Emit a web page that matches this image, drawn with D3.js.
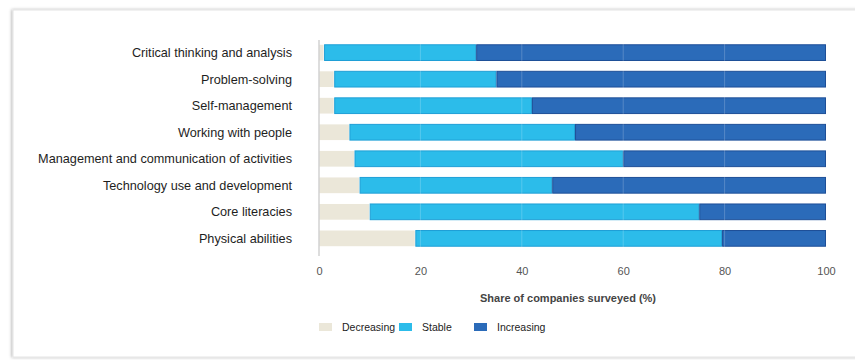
<!DOCTYPE html>
<html>
<head>
<meta charset="utf-8">
<script src="https://cdn.jsdelivr.net/npm/d3@7"></script>
<style>
  body { margin: 0; background: #fff; }
  text { font-family: "Liberation Sans", Arial, sans-serif; }
</style>
</head>
<body>
<div class="chart"></div>
<script>
const categories = [
  'Critical thinking and analysis',
  'Problem-solving',
  'Self-management',
  'Working with people',
  'Management and communication of activities',
  'Technology use and development',
  'Core literacies',
  'Physical abilities'
];
const decreasing = [1, 3, 3, 6, 7, 8, 10, 19];
const stable = [30, 32, 39, 44.5, 53, 38, 65, 60.5];
const increasing = [69, 65, 58, 49.5, 40, 54, 25, 20.5];
const seriesNames = ['Decreasing', 'Stable', 'Increasing'];
const colors = ['#ebe7d9', '#2cbcea', '#2b6bb9'];
const strokes = ['none', '#1f9fd6', '#1e4f98'];
const xTicks = [0, 20, 40, 60, 80, 100];

const W = 855, H = 360;
const svg = d3.select('.chart').append('svg')
  .attr('width', W)
  .attr('height', H);

// card with soft shadow
const defs = svg.append('defs');
const f = defs.append('filter').attr('id', 'sh').attr('x', -0.05).attr('y', -0.05).attr('width', 1.1).attr('height', 1.1);
f.append('feDropShadow').attr('dx', -1).attr('dy', 0).attr('stdDeviation', 1.5)
  .attr('flood-color', '#000').attr('flood-opacity', 0.3);
svg.append('rect')
  .attr('x', 13).attr('y', 10)
  .attr('width', W + 20).attr('height', 347)
  .attr('fill', '#fff')
  .attr('stroke', '#e4e4e4')
  .attr('filter', 'url(#sh)');

const data = categories.map((c, i) => ({
  cat: c, Decreasing: decreasing[i], Stable: stable[i], Increasing: increasing[i]
}));
const stacked = d3.stack().keys(seriesNames)(data);

const x = d3.scaleLinear().domain([0, 100]).range([319, 826]);
const y = d3.scaleBand().domain(categories).range([39.5, 251.5]).paddingInner(0.37).paddingOuter(0.18);

const g = svg.append('g');

g.selectAll('g.series')
  .data(stacked)
  .join('g')
  .attr('class', 'series')
  .attr('fill', (d, i) => colors[i])
  .attr('stroke', (d, i) => strokes[i])
  .attr('stroke-width', 1)
  .selectAll('rect')
  .data(d => d)
  .join('rect')
  .attr('x', d => x(d[0]) + 0.5)
  .attr('y', d => y(d.data.cat) + 0.5)
  .attr('width', d => Math.max(0, x(d[1]) - x(d[0]) - 1))
  .attr('height', y.bandwidth() - 1);

// faint gridlines showing through bars
g.selectAll('line.grid')
  .data(xTicks.slice(1, -1))
  .join('line')
  .attr('class', 'grid')
  .attr('x1', d => x(d)).attr('x2', d => x(d))
  .attr('y1', 38).attr('y2', 254)
  .attr('stroke', '#fff')
  .attr('stroke-opacity', 0.2);

// y axis line
g.append('line')
  .attr('x1', 319).attr('x2', 319)
  .attr('y1', 40).attr('y2', 256)
  .attr('stroke', '#bbb');

// category labels
g.selectAll('text.cat')
  .data(categories)
  .join('text')
  .attr('class', 'cat')
  .attr('x', 292)
  .attr('y', d => y(d) + y.bandwidth() / 2)
  .attr('dy', '0.35em')
  .attr('text-anchor', 'end')
  .attr('font-size', 12.7)
  .attr('fill', '#1e1e1e')
  .text(d => d);

// x axis
const xAxis = d3.axisBottom(x).tickValues(xTicks).tickSize(0).tickPadding(0);
const ax = svg.append('g').attr('transform', 'translate(0,275)').call(xAxis);
ax.select('.domain').remove();
ax.selectAll('text').attr('font-size', 11).attr('fill', '#555').attr('dy', 0);

svg.append('text')
  .attr('x', 568).attr('y', 302)
  .attr('text-anchor', 'middle')
  .attr('font-size', 11)
  .attr('font-weight', 'bold')
  .attr('fill', '#444')
  .text('Share of companies surveyed (%)');

// legend
const legendX = [319, 399, 474];
const leg = svg.append('g').selectAll('g')
  .data(seriesNames)
  .join('g')
  .attr('transform', (d, i) => `translate(${legendX[i]},327)`);
leg.append('rect')
  .attr('x', 0).attr('y', -4)
  .attr('width', 13).attr('height', 8)
  .attr('fill', (d, i) => colors[i]);
leg.append('text')
  .attr('x', 23).attr('y', 0)
  .attr('dy', '0.35em')
  .attr('font-size', 10.5)
  .attr('fill', '#222')
  .text(d => d);
</script>
</body>
</html>
